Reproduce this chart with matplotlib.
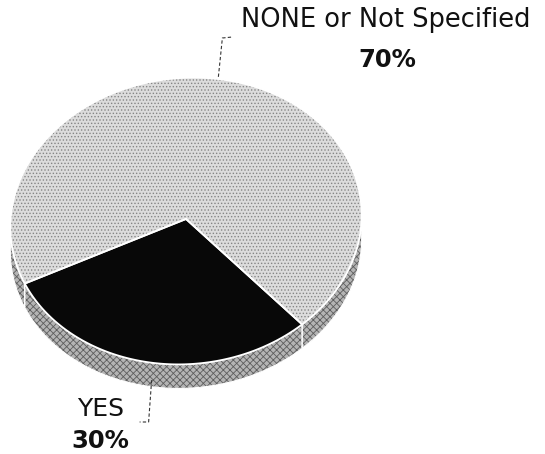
import numpy as np
import matplotlib
matplotlib.use('Agg')
import matplotlib.pyplot as plt

# chart data
labels = ['NONE or Not Specified', 'YES']
values = [70, 30]
pct_labels = ['70%', '30%']
top_colors = ['#dcdcdc', '#080808']
top_hatch = ['.....', None]
side_color = '#b4b4b4'

# pie geometry in pixel space (y up)
W, H = 545, 454
cx, cy = 186, H - 221
a, b = 176, 143
tilt = np.deg2rad(6)
depth = 24
start = 306.5

plt.rcParams['hatch.linewidth'] = 0.6


def ell(t_deg, dy=0):
    t = np.deg2rad(t_deg)
    x = a * np.cos(t)
    y = b * np.sin(t)
    xr = x * np.cos(tilt) - y * np.sin(tilt)
    yr = x * np.sin(tilt) + y * np.cos(tilt)
    return cx + xr, cy + yr - dy


fig = plt.figure(figsize=(W / 100, H / 100), dpi=100)
ax = fig.add_axes([0, 0, 1, 1])
ax.set_xlim(0, W)
ax.set_ylim(0, H)
ax.axis('off')

# wedge angle ranges from the values
fr = np.array(values) / sum(values)
edges = start + 360 * np.concatenate([[0], np.cumsum(fr)])

# front (visible) part of the side wall
t1 = np.rad2deg(np.arctan2(-b * np.sin(tilt), a * np.cos(tilt))) + 180
front = (t1, t1 + 180)

for i in range(len(values)):
    lo, hi = edges[i], edges[i + 1]
    for k in (-360, 0, 360):
        s = max(lo + k, front[0])
        e = min(hi + k, front[1])
        if e > s:
            tt = np.linspace(s, e, 100)
            xt, yt = ell(tt)
            xb, yb = ell(tt[::-1], depth)
            px = np.concatenate([xt, xb])
            py = np.concatenate([yt, yb])
            ax.fill(px, py, facecolor=side_color, edgecolor='#5e5e5e', lw=0,
                    hatch='xxxxx', zorder=1)
            ax.fill(px, py, facecolor='none', edgecolor='white', lw=0.8, zorder=1.5)

for i in range(len(values)):
    tt = np.linspace(edges[i], edges[i + 1], 200)
    xs, ys = ell(tt)
    xs = np.concatenate([[cx], xs])
    ys = np.concatenate([[cy + 2], ys])
    ax.fill(xs, ys, facecolor=top_colors[i], edgecolor='#858585', lw=0,
            hatch=top_hatch[i], zorder=2)
    ax.fill(xs, ys, facecolor='none', edgecolor='white', lw=1.3, zorder=2.5)

# leader lines and labels
mid0 = (edges[0] + edges[1]) / 2
x0, y0 = ell(mid0)
ax.plot([x0 - 6, x0 - 2, x0 + 8], [y0 + 3, H - 38, H - 37], color='#333333',
        lw=0.8, ls=(0, (3, 2)), zorder=3)
mid1 = (edges[1] + edges[2]) / 2
x1, y1 = ell(mid1, depth)
ax.plot([x1 + 4, x1 + 1, x1 - 8], [y1 + 6, H - 422, H - 422], color='#333333',
        lw=0.8, ls=(0, (3, 2)), zorder=3)

font = 'DejaVu Sans'
ax.text(386, H - 20, labels[0], ha='center', va='center', fontsize=18.5,
        family=font, color='#111111')
ax.text(387, H - 60, pct_labels[0], ha='center', va='center', fontsize=17.5,
        family=font, fontweight='bold', color='#111111')
ax.text(101, H - 409, labels[1], ha='center', va='center', fontsize=18,
        family=font, color='#111111')
ax.text(100, H - 441, pct_labels[1], ha='center', va='center', fontsize=17.5,
        family=font, fontweight='bold', color='#111111')

fig.savefig('out.png', dpi=100)
